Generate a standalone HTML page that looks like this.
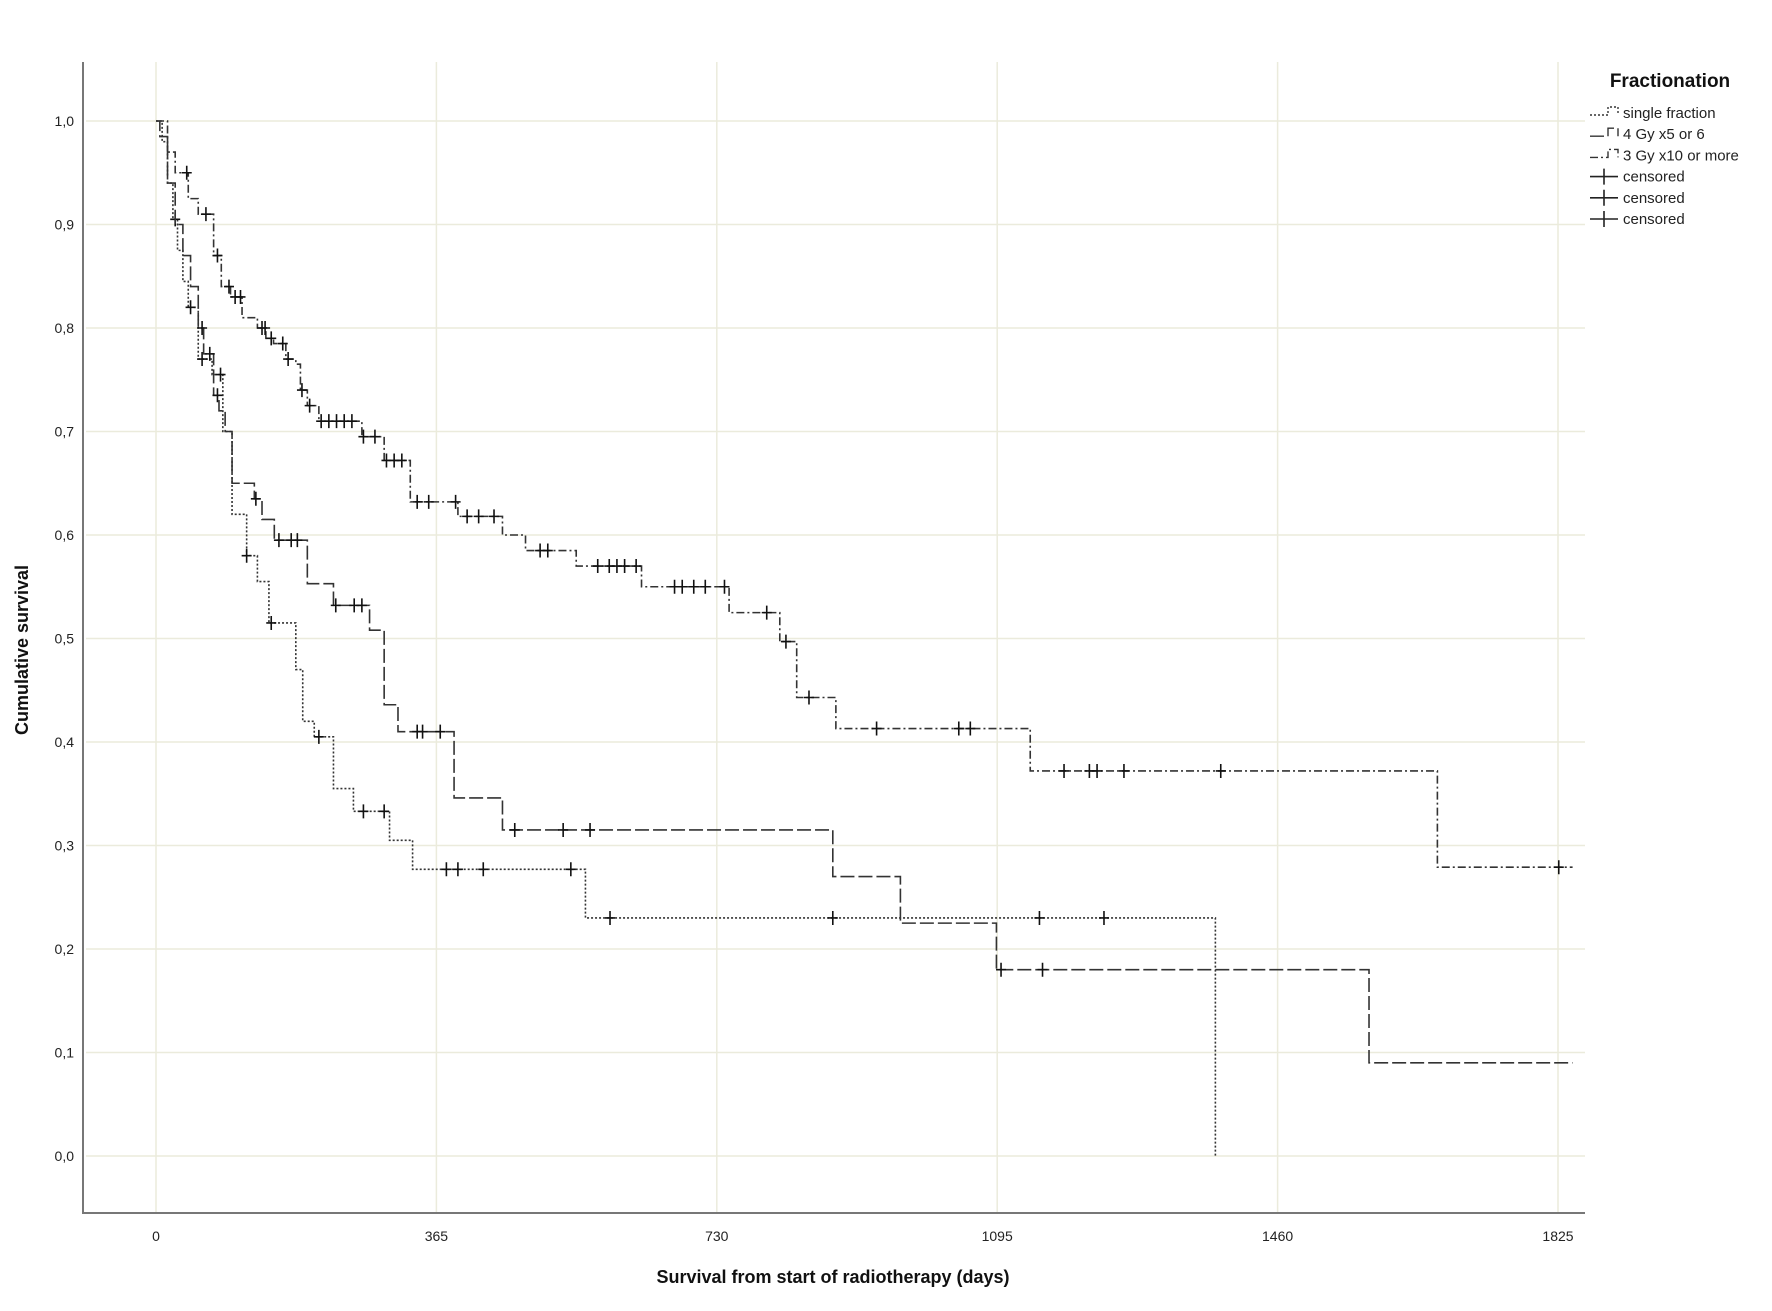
<!DOCTYPE html>
<html><head><meta charset="utf-8"><style>
body{margin:0;background:#fff}
svg{display:block;font-family:"Liberation Sans",sans-serif}
</style></head><body>
<svg id="chart" width="1772" height="1311" viewBox="0 0 1772 1311">
<g id="grid"></g>
<g id="axes"></g>
<g id="series"></g>
<text x="28" y="650" transform="rotate(-90 28 650)" text-anchor="middle" font-size="18" font-weight="bold" fill="#111">Cumulative survival</text>
<text x="833" y="1283" text-anchor="middle" font-size="18" font-weight="bold" fill="#111">Survival from start of radiotherapy (days)</text>
<g id="legend">
<text x="1670" y="87" text-anchor="middle" font-size="19" font-weight="bold" fill="#111">Fractionation</text>
</g>
</svg>
<script>
const xTicks=[0,365,730,1095,1460,1825];
const yTicks=[0,0.1,0.2,0.3,0.4,0.5,0.6,0.7,0.8,0.9,1.0];
const yTickLabels=["0,0","0,1","0,2","0,3","0,4","0,5","0,6","0,7","0,8","0,9","1,0"];
const singleTimes=[0,8,15,22,28,35,42,55,73,87,99,118,132,147,182,191,206,231,257,304,334,559,1379];
const singleSurv=[1,0.98,0.94,0.905,0.875,0.845,0.82,0.77,0.755,0.70,0.62,0.58,0.555,0.515,0.47,0.42,0.405,0.355,0.333,0.305,0.277,0.23,0.0];
const singleCens=[25,45,60,84,118,150,212,270,297,378,393,426,540,591,881,1150,1234];
const gy4Times=[0,5,15,25,35,45,55,62,75,82,90,99,128,138,154,197,231,278,297,315,388,451,881,969,1094,1579];
const gy4Surv=[1,0.985,0.94,0.90,0.87,0.84,0.80,0.775,0.735,0.72,0.70,0.65,0.635,0.615,0.595,0.553,0.532,0.508,0.436,0.41,0.346,0.315,0.27,0.225,0.18,0.09];
const gy4Cens=[60,70,80,130,160,176,184,234,258,268,340,347,370,467,530,565,1100,1154];
const gy3Times=[0,15,25,42,55,75,85,97,112,132,143,153,169,182,188,197,212,268,297,331,393,451,481,547,632,746,812,834,885,1138,1668];
const gy3Surv=[1,0.97,0.95,0.925,0.91,0.87,0.84,0.83,0.81,0.80,0.79,0.785,0.77,0.765,0.74,0.725,0.71,0.695,0.672,0.632,0.618,0.60,0.585,0.57,0.55,0.525,0.497,0.443,0.413,0.372,0.279];
const gy3Cens=[40,65,80,95,103,110,138,142,150,165,172,190,200,215,225,235,245,255,270,285,300,310,320,340,355,390,405,420,440,500,510,575,590,600,610,625,675,685,700,715,740,795,820,850,938,1045,1060,1182,1215,1225,1260,1386,1826];
const endDay=1844;
const NS="http://www.w3.org/2000/svg";
const X=d=>156+d*(1402/1825);
const Y=s=>1156-s*1035;
function mk(tag,attrs,parent){const e=document.createElementNS(NS,tag);for(const k in attrs)e.setAttribute(k,attrs[k]);parent.appendChild(e);return e;}
const grid=document.getElementById('grid'),axes=document.getElementById('axes'),series=document.getElementById('series'),legend=document.getElementById('legend');
xTicks.forEach(t=>{
 const l=mk('line',{x1:X(t),x2:X(t),y1:62,y2:1213,stroke:'#ebebdc','stroke-width':1.5},grid);
 
 
 const tx=mk('text',{x:X(t),y:1241,'text-anchor':'middle','font-size':14,fill:'#222'},axes);
 tx.textContent=t;
 
 
});
yTicks.forEach((t,i)=>{
 const l=mk('line',{x1:86,x2:1585,y1:Y(t),y2:Y(t),stroke:'#ebebdc','stroke-width':1.5},grid);
 
 
 const tx=mk('text',{x:74,y:Y(t)+5,'text-anchor':'end','font-size':14,fill:'#222'},axes);
 tx.textContent=yTickLabels[i];
 
 
});
const ax=mk('path',{d:'M83 62 V1213 H1585',fill:'none',stroke:'#777','stroke-width':2},axes);


function survAt(times,surv,t){let s=surv[0];for(let i=0;i<times.length;i++){if(times[i]<=t)s=surv[i];}return s;}
function drawSeries(times,surv,cens,end,dash,name){
 let d='M'+X(times[0])+' '+Y(surv[0]);
 for(let i=1;i<times.length;i++){d+=' H'+X(times[i])+' V'+Y(surv[i]);}
 if(end!==null)d+=' H'+X(end);
 const p=mk('path',{d:d,fill:'none',stroke:'#333','stroke-width':1.6,'stroke-dasharray':dash},series);
 
 
 cens.forEach(t=>{
  const cx=X(t),cy=Y(survAt(times,surv,t));
  const c=mk('path',{d:`M${cx-5} ${cy} H${cx+5} M${cx} ${cy-7} V${cy+7}`,stroke:'#111','stroke-width':1.6},series);
  
  
 });
}
drawSeries(singleTimes,singleSurv,singleCens,null,'2,2','single-fraction');
drawSeries(gy4Times,gy4Surv,gy4Cens,endDay,'14,4','4gy');
drawSeries(gy3Times,gy3Surv,gy3Cens,endDay,'8,3,2,3','3gy');
const legItems=[['single fraction','2,2',false],['4 Gy x5 or 6','14,4',false],['3 Gy x10 or more','8,3,2,3',false],['censored',null,true],['censored',null,true],['censored',null,true]];
legItems.forEach((it,i)=>{
 const y=113+i*21.2;
 if(it[2]){
  const c=mk('path',{d:`M1590 ${y} H1618 M1604 ${y-8} V${y+8}`,stroke:'#222','stroke-width':1.6},legend);
  
  
 }else{
  const c=mk('path',{d:`M1590 ${y+2} H1608 V${y-6} H1618 V${y+2}`,fill:'none',stroke:'#333','stroke-width':1.4,'stroke-dasharray':it[1]},legend);
  
  
 }
 const tx=mk('text',{x:1623,y:y+5,'font-size':15,fill:'#222'},legend);
 tx.textContent=it[0];
 
 
});
</script>
</body></html>
